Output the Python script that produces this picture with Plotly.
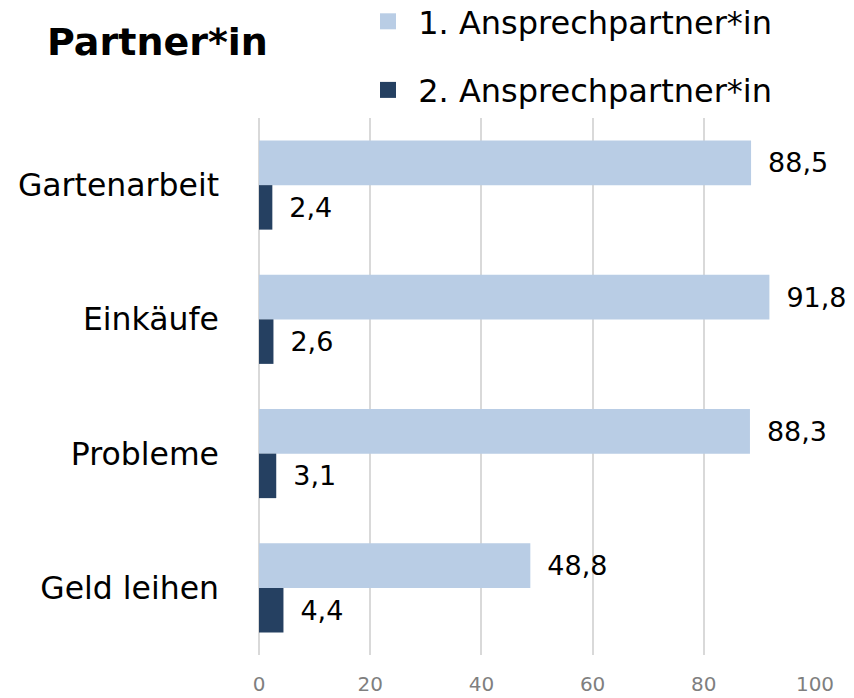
import plotly.graph_objects as go

categories = ["Gartenarbeit", "Einkäufe", "Probleme", "Geld leihen"]
series_names = ["1. Ansprechpartner*in", "2. Ansprechpartner*in"]
first_values = [88.5, 91.8, 88.3, 48.8]
second_values = [2.4, 2.6, 3.1, 4.4]
x_ticks = [0, 20, 40, 60, 80, 100]
colors = ["#B9CDE5", "#254061"]
title_text = "Partner*in"

FONT = "DejaVu Sans"
# page body has an 8px margin; figure is sized/shifted to compensate
W, H = 846, 690
L, T, R, B = 251, 110, 39, 43
PLOT_H = H - T - B

fig = go.Figure()
for name, vals, col in zip(series_names, [first_values, second_values], colors):
    fig.add_trace(go.Bar(
        y=categories, x=vals, name=name, orientation="h",
        marker=dict(color=col, line=dict(width=0)),
        texttemplate="\u00a0\u2009%{x:.1f}", textposition="outside",
        textfont=dict(family=FONT, size=27, color="#000000"),
        cliponaxis=False, showlegend=False,
    ))
# legend entries with larger square markers
for i, (name, col) in enumerate(zip(series_names, colors)):
    fig.add_trace(go.Scatter(
        x=[None], y=[categories[0]], mode="markers", name="\u00a0" + name,
        marker=dict(symbol="square", size=16, color=col),
        legendgroup=f"g{i}", showlegend=True, hoverinfo="skip",
    ))

fig.update_layout(
    width=W, height=H,
    margin=dict(l=L, r=R, t=T, b=B, autoexpand=False),
    paper_bgcolor="white", plot_bgcolor="white",
    barmode="group", bargap=0.337, bargroupgap=0,
    separators=",.",
    font=dict(family=FONT, color="#000000"),
    title=dict(text="<b>" + title_text + "</b>", xref="container", yref="container",
               x=39/W, xanchor="left", y=1 - 34/H, yanchor="middle",
               font=dict(family=FONT, size=38, color="#000000")),
    legend=dict(xref="container", yref="paper", x=360/W, xanchor="left",
                y=1 + (T + 14)/PLOT_H, yanchor="top", traceorder="grouped", tracegroupgap=24,
                font=dict(family=FONT, size=32, color="#000000"),
                bgcolor="rgba(0,0,0,0)", itemsizing="trace"),
    xaxis=dict(range=[0, 100], tickvals=x_ticks, showgrid=True, gridcolor="#D9D9D9",
               gridwidth=1.5, zeroline=True, zerolinecolor="#D9D9D9", zerolinewidth=1.5,
               showline=False, ticks="", ticklabelstandoff=15, automargin=False,
               tickfont=dict(family=FONT, size=20, color="#7F7F7F")),
    yaxis=dict(categoryorder="array", categoryarray=categories, autorange="reversed",
               showgrid=False, zeroline=False, showline=False, ticks="",
               ticklabelstandoff=39, automargin=False,
               tickfont=dict(family=FONT, size=31.5, color="#000000")),
)

fig.write_html("out.html")
